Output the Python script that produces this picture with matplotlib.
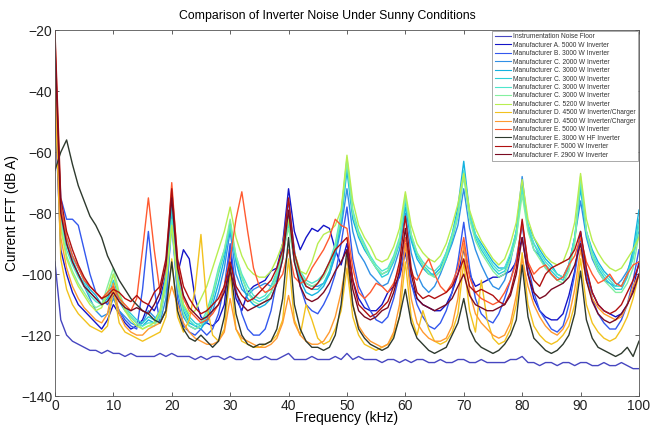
import matplotlib
matplotlib.use("Agg")
import matplotlib.pyplot as plt

plt.rcParams['font.family'] = ['Liberation Sans', 'DejaVu Sans']

# frequency grid in kHz, one reading per kHz
freq = list(range(0, 101))

noise_floor = [
    -96, -115, -120, -122, -123, -124, -125, -125, -126, -125,
    -126, -126, -127, -126, -127, -127, -127, -127, -126, -127,
    -126, -127, -127, -127, -128, -127, -128, -127, -127, -128,
    -127, -128, -128, -127, -128, -128, -127, -128, -128, -127,
    -126, -128, -128, -128, -127, -128, -128, -128, -127, -128,
    -126, -128, -127, -128, -128, -128, -129, -128, -128, -129,
    -128, -129, -128, -128, -129, -129, -128, -129, -129, -128,
    -128, -129, -129, -128, -129, -129, -129, -129, -128, -128,
    -127, -129, -129, -130, -129, -129, -130, -129, -129, -130,
    -129, -129, -130, -130, -129, -130, -130, -129, -130, -131, -131]

mfr_a_5000 = [
    -45, -92, -100, -106, -110, -112, -114, -116, -118, -115,
    -110, -113, -116, -118, -117, -115, -110, -112, -108, -100,
    -82, -100, -92, -95, -108, -114, -116, -117, -115, -110,
    -92, -108, -112, -106, -104, -103, -102, -99, -98, -90,
    -72, -86, -92, -88, -85, -86, -84, -85, -92, -97,
    -90, -102, -108, -111, -112, -112, -110, -106, -104, -101,
    -93, -103, -108, -110, -111, -112, -112, -110, -106, -100,
    -92, -100, -104, -103, -102, -101, -101, -100, -99, -96,
    -88, -100, -108, -112, -114, -115, -115, -113, -107, -99,
    -86, -99, -106, -110, -112, -113, -114, -113, -110, -105, -96]

mfr_b_3000 = [
    -35, -75, -82, -82, -84, -92, -100, -106, -108, -110,
    -107, -112, -115, -117, -118, -105, -86, -105, -116, -112,
    -80, -108, -117, -119, -120, -118, -120, -118, -113, -104,
    -90, -105, -113, -118, -120, -120, -118, -112, -102, -90,
    -76, -92, -104, -110, -112, -113, -110, -106, -100, -90,
    -78, -95, -104, -108, -112, -115, -116, -114, -108, -100,
    -90, -103, -110, -114, -117, -118, -116, -112, -106, -96,
    -83, -98, -108, -113, -115, -116, -113, -108, -102, -95,
    -84, -97, -106, -112, -115, -118, -119, -117, -110, -100,
    -88, -100, -108, -113, -116, -118, -118, -115, -110, -102, -92]

mfr_c_2000 = [
    -30, -80, -90, -96, -100, -104, -108, -112, -114, -113,
    -108, -112, -114, -116, -117, -116, -112, -114, -116, -108,
    -84, -106, -114, -117, -118, -117, -116, -112, -106, -98,
    -86, -100, -105, -107, -105, -104, -103, -104, -100, -92,
    -80, -95, -100, -103, -104, -104, -103, -100, -94, -85,
    -72, -86, -93, -96, -100, -102, -104, -103, -98, -92,
    -80, -93, -100, -104, -106, -104, -100, -95, -90, -84,
    -72, -85, -92, -97, -101, -104, -105, -102, -96, -86,
    -68, -85, -92, -94, -98, -100, -102, -101, -97, -88,
    -76, -88, -95, -99, -102, -103, -104, -102, -99, -94, -86]

mfr_c_3000_a = [
    -28, -78, -88, -94, -98, -102, -105, -107, -110, -108,
    -104, -109, -112, -114, -116, -117, -115, -116, -114, -104,
    -80, -102, -112, -116, -117, -118, -115, -110, -103, -95,
    -83, -96, -103, -108, -110, -111, -110, -108, -103, -95,
    -82, -96, -102, -106, -107, -106, -104, -100, -93, -83,
    -66, -82, -88, -92, -95, -98, -100, -99, -95, -89,
    -78, -89, -95, -98, -100, -100, -98, -93, -87, -78,
    -63, -80, -87, -90, -93, -96, -98, -98, -94, -86,
    -72, -84, -88, -92, -95, -97, -100, -101, -97, -88,
    -72, -86, -92, -96, -99, -101, -103, -104, -100, -92, -79]

mfr_c_3000_b = [
    -32, -80, -90, -95, -100, -103, -106, -108, -110, -109,
    -102, -108, -111, -113, -115, -116, -114, -115, -112, -100,
    -78, -100, -110, -114, -116, -117, -114, -108, -100, -93,
    -85, -95, -101, -106, -108, -109, -108, -106, -101, -93,
    -84, -95, -101, -104, -105, -105, -103, -99, -92, -82,
    -64, -80, -87, -91, -95, -98, -101, -100, -96, -90,
    -76, -88, -94, -97, -99, -101, -99, -95, -89, -81,
    -67, -81, -88, -92, -95, -98, -100, -99, -95, -88,
    -70, -85, -90, -94, -97, -99, -101, -102, -98, -89,
    -70, -87, -94, -98, -101, -103, -105, -105, -101, -94, -82]

mfr_c_3000_c = [
    -30, -82, -92, -97, -101, -104, -107, -109, -110, -107,
    -100, -107, -112, -114, -116, -117, -116, -116, -113, -102,
    -82, -102, -111, -115, -117, -116, -112, -106, -98, -92,
    -84, -94, -100, -104, -107, -108, -107, -104, -99, -92,
    -83, -93, -99, -102, -103, -102, -100, -96, -90, -80,
    -62, -79, -86, -90, -94, -97, -99, -98, -94, -88,
    -75, -87, -93, -96, -98, -99, -97, -93, -87, -80,
    -66, -80, -87, -91, -94, -97, -99, -98, -93, -86,
    -72, -84, -90, -93, -96, -98, -100, -101, -97, -88,
    -69, -86, -93, -97, -100, -102, -104, -104, -100, -95, -84]

mfr_c_3000_d = [
    -35, -84, -94, -99, -103, -106, -109, -111, -110, -104,
    -98, -106, -111, -114, -116, -118, -117, -117, -114, -104,
    -84, -104, -113, -117, -118, -117, -113, -107, -99, -92,
    -82, -94, -101, -106, -109, -110, -109, -106, -100, -93,
    -85, -95, -100, -103, -104, -103, -101, -97, -91, -81,
    -63, -80, -87, -91, -95, -98, -100, -99, -95, -89,
    -74, -87, -93, -97, -100, -101, -99, -94, -88, -81,
    -68, -82, -89, -93, -96, -99, -101, -100, -95, -88,
    -74, -86, -92, -95, -98, -100, -102, -103, -99, -90,
    -68, -86, -94, -99, -102, -104, -106, -106, -103, -98, -87]

mfr_c_5200 = [
    -40, -85, -95, -100, -104, -107, -110, -112, -111, -106,
    -100, -107, -112, -115, -117, -118, -117, -116, -112, -102,
    -84, -102, -110, -113, -112, -108, -104, -98, -92, -86,
    -78, -88, -94, -98, -100, -101, -101, -99, -95, -90,
    -82, -93, -99, -100, -96, -90, -87, -86, -84, -79,
    -61, -76, -84, -88, -91, -95, -96, -95, -91, -85,
    -73, -84, -90, -93, -95, -96, -94, -90, -84, -77,
    -67, -79, -85, -89, -92, -95, -97, -95, -90, -83,
    -69, -82, -88, -91, -94, -96, -97, -96, -91, -83,
    -67, -82, -89, -93, -96, -98, -99, -98, -95, -92, -88]

mfr_d_4500_a = [
    -38, -95, -105, -110, -113, -115, -117, -118, -119, -117,
    -105, -116, -119, -120, -121, -122, -121, -120, -119, -114,
    -95, -114, -119, -115, -105, -87, -110, -120, -122, -118,
    -100, -118, -122, -123, -124, -124, -123, -122, -120, -115,
    -95, -115, -120, -110, -115, -121, -123, -122, -118, -112,
    -98, -114, -120, -123, -124, -125, -124, -123, -120, -114,
    -96, -114, -120, -112, -118, -122, -123, -122, -119, -113,
    -96, -112, -119, -102, -115, -121, -123, -122, -118, -110,
    -93, -110, -117, -120, -122, -123, -122, -120, -117, -110,
    -95, -110, -116, -119, -121, -122, -121, -118, -114, -108, -100]

mfr_d_4500_b = [
    -30, -88, -98, -104, -108, -111, -113, -115, -116, -113,
    -103, -113, -117, -119, -120, -120, -118, -117, -116, -112,
    -104, -110, -116, -119, -121, -122, -123, -123, -122, -119,
    -108, -118, -121, -122, -123, -124, -124, -123, -121, -116,
    -107, -116, -120, -122, -123, -123, -122, -119, -114, -106,
    -95, -110, -117, -120, -122, -123, -124, -123, -119, -110,
    -90, -108, -116, -119, -121, -122, -122, -121, -117, -108,
    -90, -106, -113, -116, -118, -120, -121, -120, -116, -107,
    -95, -104, -110, -114, -117, -119, -120, -118, -114, -105,
    -92, -102, -108, -111, -113, -114, -115, -114, -110, -104, -100]

mfr_e_5000 = [
    -22, -78, -88, -94, -98, -102, -104, -106, -108, -106,
    -104, -108, -110, -112, -108, -92, -75, -92, -106, -98,
    -70, -96, -108, -112, -114, -116, -115, -113, -110, -104,
    -95, -82, -73, -86, -98, -104, -106, -105, -103, -100,
    -92, -101, -103, -102, -98, -95, -92, -88, -82, -84,
    -85, -98, -106, -108, -106, -103, -104, -106, -103, -98,
    -88, -100, -102, -98, -95, -100, -104, -106, -103, -98,
    -88, -101, -106, -108, -109, -110, -109, -106, -102, -96,
    -83, -96, -100, -98, -97, -100, -102, -101, -97, -94,
    -88, -96, -100, -103, -102, -100, -103, -104, -100, -97, -96]

mfr_e_3000_hf = [
    -66, -60, -56, -64, -71, -76, -81, -84, -88, -94,
    -98, -102, -105, -108, -110, -112, -113, -115, -116, -112,
    -96, -112, -118, -121, -122, -120, -122, -124, -122, -114,
    -97, -113, -120, -123, -124, -123, -123, -122, -118, -108,
    -88, -110, -118, -122, -124, -124, -125, -124, -120, -110,
    -92, -110, -118, -121, -123, -124, -125, -124, -121, -114,
    -105, -116, -121, -123, -125, -126, -125, -124, -120, -116,
    -108, -118, -122, -124, -125, -126, -125, -123, -120, -115,
    -97, -114, -121, -123, -125, -126, -125, -123, -120, -113,
    -99, -115, -121, -124, -125, -126, -127, -126, -124, -127, -122]

mfr_f_5000 = [
    -20, -75, -86, -92, -97, -101, -104, -106, -108, -107,
    -105, -106, -108, -109, -107, -109, -110, -106, -104, -95,
    -72, -95, -104, -108, -111, -113, -112, -110, -108, -104,
    -96, -104, -107, -109, -108, -106, -104, -102, -98, -92,
    -75, -93, -100, -104, -105, -103, -100, -96, -92, -90,
    -88, -102, -110, -112, -114, -113, -111, -109, -104, -96,
    -81, -98, -106, -108, -107, -108, -107, -106, -104, -100,
    -95, -104, -106, -105, -106, -107, -109, -110, -106, -98,
    -82, -97, -102, -104, -100, -98, -97, -96, -95, -92,
    -86, -98, -106, -110, -112, -113, -112, -110, -106, -102, -97]

mfr_f_2900 = [
    -25, -80, -90, -96, -100, -104, -106, -108, -110, -109,
    -106, -109, -111, -112, -111, -112, -113, -110, -106, -97,
    -75, -98, -107, -111, -113, -115, -114, -112, -110, -106,
    -99, -106, -110, -112, -111, -110, -109, -108, -103, -95,
    -79, -96, -104, -108, -109, -108, -106, -103, -99, -96,
    -92, -105, -112, -114, -115, -114, -112, -111, -106, -99,
    -85, -100, -108, -110, -111, -112, -111, -110, -108, -104,
    -100, -107, -110, -111, -112, -112, -111, -110, -107, -100,
    -88, -100, -106, -108, -107, -105, -104, -103, -101, -97,
    -90, -102, -109, -113, -115, -116, -115, -113, -110, -106, -100]

labels = [
    'Instrumentation Noise Floor',
    'Manufacturer A. 5000 W Inverter',
    'Manufacturer B. 3000 W Inverter',
    'Manufacturer C. 2000 W Inverter',
    'Manufacturer C. 3000 W Inverter',
    'Manufacturer C. 3000 W Inverter',
    'Manufacturer C. 3000 W Inverter',
    'Manufacturer C. 3000 W Inverter',
    'Manufacturer C. 5200 W Inverter',
    'Manufacturer D. 4500 W Inverter/Charger',
    'Manufacturer D. 4500 W Inverter/Charger',
    'Manufacturer E. 5000 W Inverter',
    'Manufacturer E. 3000 W HF Inverter',
    'Manufacturer F. 5000 W Inverter',
    'Manufacturer F. 2900 W Inverter',
]
series = [noise_floor, mfr_a_5000, mfr_b_3000, mfr_c_2000, mfr_c_3000_a,
          mfr_c_3000_b, mfr_c_3000_c, mfr_c_3000_d, mfr_c_5200,
          mfr_d_4500_a, mfr_d_4500_b, mfr_e_5000, mfr_e_3000_hf,
          mfr_f_5000, mfr_f_2900]
colors = ['#4646c0', '#1414c8', '#3358ee', '#3090e6', '#14b2e0',
          '#2ccfd8', '#4ee6cc', '#84f0a0', '#b8ee50', '#f2c21e',
          '#ff9a30', '#ff5a30', '#2e3a2e', '#b01010', '#7a0a22']

fig = plt.figure(figsize=(6.54, 4.25), dpi=100)
ax = fig.add_axes([0.084, 0.068, 0.893, 0.861])

for vals, lab, col in zip(series, labels, colors):
    ax.plot(freq, vals, color=col, lw=1.0, label=lab)

ax.set_xlim(0, 100)
ax.set_ylim(-140, -20)
ax.set_xticks(range(0, 101, 10))
ax.set_yticks(range(-140, -19, 20))
ax.tick_params(direction='in', top=True, right=True, labelsize=10,
               length=3, width=0.5, colors='#222222', pad=2)
for s in ax.spines.values():
    s.set_linewidth(0.6)
    s.set_color('#555555')

ax.set_title('Comparison of Inverter Noise Under Sunny Conditions',
             fontsize=8.8, pad=8, x=0.466)
ax.set_xlabel('Frequency (kHz)', fontsize=10, labelpad=-1)
ax.set_ylabel('Current FFT (dB A)', fontsize=9.8, labelpad=1)

leg = ax.legend(loc='upper right', fontsize=4.8, labelspacing=0.22,
                handlelength=2.4, handletextpad=0.4, borderpad=0.35,
                borderaxespad=0.1, fancybox=False, framealpha=1,
                edgecolor='#888888')
leg.get_frame().set_linewidth(0.5)
for line in leg.get_lines():
    line.set_linewidth(0.8)
for t in leg.get_texts():
    t.set_color('#333333')

fig.savefig('out.png', dpi=100)
